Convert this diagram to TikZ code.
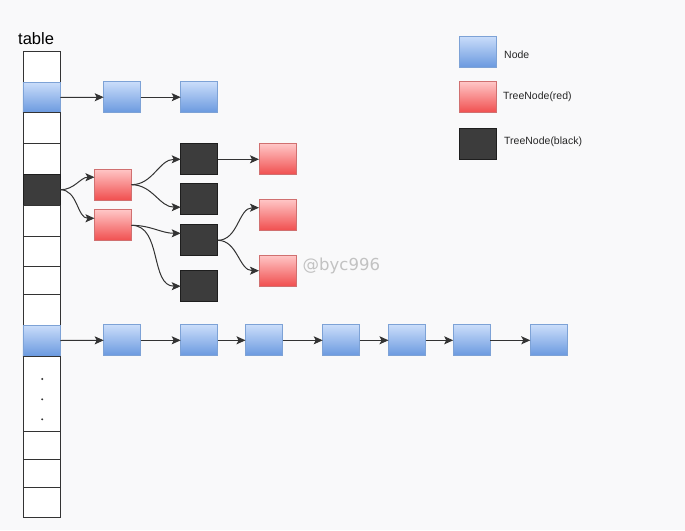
\documentclass[tikz,border=0pt]{standalone}
\usepackage{fontspec}
\setmainfont{Liberation Sans}
\newfontfamily\wmfont{DejaVu Sans}
\usetikzlibrary{arrows.meta}
\definecolor{bgc}{HTML}{F9F9FA}
\definecolor{bluetop}{HTML}{CADDFA}
\definecolor{bluebot}{HTML}{6A99DF}
\definecolor{blueline}{HTML}{7DA2D6}
\definecolor{redtop}{HTML}{FFC6C6}
\definecolor{redbot}{HTML}{F04E4E}
\definecolor{redline}{HTML}{D07070}
\definecolor{blackfill}{HTML}{3C3C3C}
\definecolor{blackline}{HTML}{1E1E1E}
\definecolor{edgec}{HTML}{333333}
\definecolor{wmc}{HTML}{C2C2C2}
\tikzset{
  cell/.style={draw=edgec, line width=0.9pt, fill=white, minimum width=37.5pt, inner sep=0pt, outer sep=0pt},
  bluecell/.style={cell, draw=blueline, top color=bluetop, bottom color=bluebot},
  blackcell/.style={cell, fill=blackfill, draw=blackline},
  box/.style={minimum width=37pt, minimum height=31pt, inner sep=0pt, outer sep=0pt, line width=0.8pt},
  bluebox/.style={box, draw=blueline, top color=bluetop, bottom color=bluebot},
  redbox/.style={box, draw=redline, top color=redtop, bottom color=redbot},
  blackbox/.style={box, draw=blackline, fill=blackfill},
  conn/.style={draw=edgec, line width=1pt, -{Stealth[length=9pt,width=8pt,inset=2pt]}},
  legtext/.style={anchor=west, font=\fontsize{10.5}{12}\selectfont, text=black!85, inner sep=0pt}
}
\begin{document}
\begin{tikzpicture}[x=1pt,y=-1pt]
\fill[bgc] (0,0) rectangle (685,530);
\useasboundingbox (0,0) rectangle (685,530);

% table label
\node[anchor=base west, inner sep=0pt, font=\fontsize{16.5}{18}\selectfont] (tlabel) at (18,44) {table};

% table cells
\node[cell, minimum height=30.6pt] (c1) at (41.7,67) {};
\node[bluecell, minimum height=30.4pt] (c2) at (41.7,97.5) {};
\node[cell, minimum height=30.6pt] (c3) at (41.7,128) {};
\node[cell, minimum height=30.7pt] (c4) at (41.7,158.65) {};
\node[blackcell, minimum height=31.5pt] (c5) at (41.7,189.75) {};
\node[cell, minimum height=31.2pt] (c6) at (41.7,221.1) {};
\node[cell, minimum height=30pt] (c7) at (41.7,251.7) {};
\node[cell, minimum height=27.6pt] (c8) at (41.7,280.5) {};
\node[cell, minimum height=30.7pt] (c9) at (41.7,309.65) {};
\node[bluecell, minimum height=31pt] (c10) at (41.7,340.5) {};
\node[cell, minimum height=75pt] (c11) at (41.7,393.5) {};
\node[cell, minimum height=28.7pt] (c12) at (41.7,445.35) {};
\node[cell, minimum height=27.3pt] (c13) at (41.7,473.35) {};
\node[cell, minimum height=30.3pt] (c14) at (41.7,502.15) {};
\fill[edgec] (42.2,379) circle (1.1pt) (42.2,399.3) circle (1.1pt) (42.2,419.3) circle (1.1pt);

% top chain
\node[bluebox] (t1) at (122.2,97.2) {};
\node[bluebox] (t2) at (199.2,97.2) {};
\draw[conn] (c2.east) -- (t1.west);
\draw[conn] (t1.east) -- (t2.west);

% bottom chain
\node[bluebox] (b1) at (122.2,340.3) {};
\node[bluebox] (b2) at (199.2,340.3) {};
\node[bluebox] (b3) at (264,340.3) {};
\node[bluebox] (b4) at (341.2,340.3) {};
\node[bluebox] (b5) at (407,340.3) {};
\node[bluebox] (b6) at (471.7,340.3) {};
\node[bluebox] (b7) at (548.8,340.3) {};
\draw[conn] (c10.east) -- (b1.west);
\draw[conn] (b1.east) -- (b2.west);
\draw[conn] (b2.east) -- (b3.west);
\draw[conn] (b3.east) -- (b4.west);
\draw[conn] (b4.east) -- (b5.west);
\draw[conn] (b5.east) -- (b6.west);
\draw[conn] (b6.east) -- (b7.west);

% tree
\node[redbox] (r1) at (113,184.7) {};
\node[redbox] (r2) at (113,225.3) {};
\node[blackbox] (k1) at (199.2,159.3) {};
\node[blackbox] (k2) at (199.2,198.7) {};
\node[blackbox] (k3) at (199.2,240.3) {};
\node[blackbox] (k4) at (199.2,286.2) {};
\node[redbox] (s1) at (277.5,159.3) {};
\node[redbox] (s2) at (277.5,215) {};
\node[redbox] (s3) at (277.5,270.7) {};

\draw[conn] (c5.east) to[out=0,in=180] ([yshift=7.5pt]r1.west);
\draw[conn] (c5.east) to[out=0,in=180] ([yshift=7pt]r2.west);
\draw[conn] (r1.east) to[out=0,in=180] (k1.west);
\draw[conn] (r1.east) to[out=0,in=180] ([yshift=-8.5pt]k2.west);
\draw[conn] (r2.east) to[out=0,in=180] ([yshift=7pt]k3.west);
\draw[conn] (r2.east) to[out=0,in=180] (k4.west);
\draw[conn] (k1.east) -- (s1.west);
\draw[conn] (k3.east) to[out=0,in=180] ([yshift=7.3pt]s2.west);
\draw[conn] (k3.east) to[out=0,in=180] (s3.west);

% watermark
\node[anchor=base west, inner sep=0pt, text=wmc, font=\wmfont\fontsize{16.5}{18}\selectfont] (wm) at (302.5,270) {@byc996};

% legend
\node[bluebox] (l1) at (478,51.7) {};
\node[redbox] (l2) at (478,97.2) {};
\node[blackbox] (l3) at (478,143.8) {};
\node[legtext] (lt1) at (504,54.3) {Node};
\node[legtext] (lt2) at (503,96.3) {TreeNode(red)};
\node[legtext] (lt3) at (504,141.7) {TreeNode(black)};
\end{tikzpicture}
\end{document}
